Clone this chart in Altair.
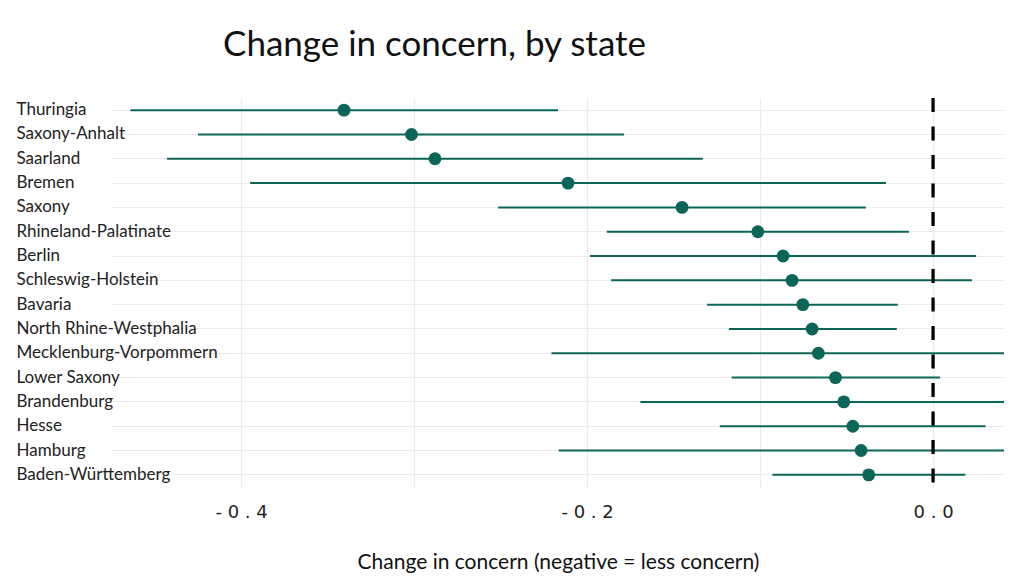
import altair as alt
import pandas as pd

states = ["Thuringia", "Saxony-Anhalt", "Saarland", "Bremen", "Saxony",
          "Rhineland-Palatinate", "Berlin", "Schleswig-Holstein", "Bavaria",
          "North Rhine-Westphalia", "Mecklenburg-Vorpommern", "Lower Saxony",
          "Brandenburg", "Hesse", "Hamburg", "Baden-Württemberg"]
estimate = [-0.3405, -0.3015, -0.2879, -0.2110, -0.1451, -0.1013, -0.0867, -0.0815,
            -0.0753, -0.0699, -0.0663, -0.0564, -0.0516, -0.0464, -0.0416, -0.0372]
lower = [-0.4640, -0.4249, -0.4428, -0.3948, -0.2514, -0.1886, -0.1983, -0.1861,
         -0.1306, -0.1180, -0.2206, -0.1164, -0.1692, -0.1233, -0.2164, -0.0929]
upper = [-0.2168, -0.1786, -0.1331, -0.0272, -0.0389, -0.0139, 0.0249, 0.0225,
         -0.0204, -0.0210, 0.0500, 0.0040, 0.0450, 0.0303, 0.0600, 0.0187]
x_ticks = [-0.4, -0.3, -0.2, -0.1, 0.0]

df = pd.DataFrame({"state": states, "estimate": estimate, "lower": lower, "upper": upper})

TEAL = "#0b6659"
FONT = "Lato"

xscale = alt.Scale(domain=[-0.4746, 0.041], nice=False, zero=False)
yenc = alt.Y("state:N", sort=states, scale=alt.Scale(paddingInner=0, paddingOuter=0),
             axis=alt.Axis(title=None, ticks=False, domain=False, labelAlign="left",
                           labelPadding=96, labelFontSize=17, labelFont=FONT,
                           labelColor="#222222", grid=True, gridColor="#ebebeb",
                           gridWidth=1.2, bandPosition=0.5, labelLimit=300))
xaxis = alt.Axis(title="Change in concern (negative = less concern)", values=x_ticks,
                 labelExpr="round(datum.value*10) % 2 == 0 ? replace(replace(replace(format(datum.value, '.1f'), '\u2212', '- '), '-', '- '), '.', ' . ') : ''",
                 ticks=False, domain=False, grid=True, gridColor="#ebebeb", gridWidth=1.2,
                 labelFont="DejaVu Sans", labelFontSize=18, labelColor="#222222",
                 labelPadding=16, titleFont=FONT, titleFontSize=21, titleFontWeight="normal",
                 titleColor="#111111", titlePadding=30)

base = alt.Chart(df)

ci = base.mark_rule(color=TEAL, strokeWidth=2, clip=True).encode(
    x=alt.X("lower:Q", scale=xscale, axis=xaxis),
    x2="upper:Q",
    y=yenc,
)
pts = base.mark_circle(color=TEAL, size=165, opacity=1).encode(
    x=alt.X("estimate:Q"),
    y=alt.Y("state:N", sort=states),
)
zero = alt.Chart(pd.DataFrame({"z": [0.0]})).mark_rule(
    color="black", strokeWidth=3.3, strokeDash=[14, 14.5]
).encode(x="z:Q")

chart = alt.layer(ci, zero, pts).properties(
    width=892, height=389,
    padding={"left": 8, "top": 20, "right": 10, "bottom": 5},
    title=alt.TitleParams("Change in concern, by state", fontSize=35, font=FONT,
                          fontWeight="normal", color="#111111", anchor="start",
                          dx=207, offset=33),
).configure_view(stroke=None)

chart.save("out.html", embed_options={"renderer": "svg", "actions": False})
